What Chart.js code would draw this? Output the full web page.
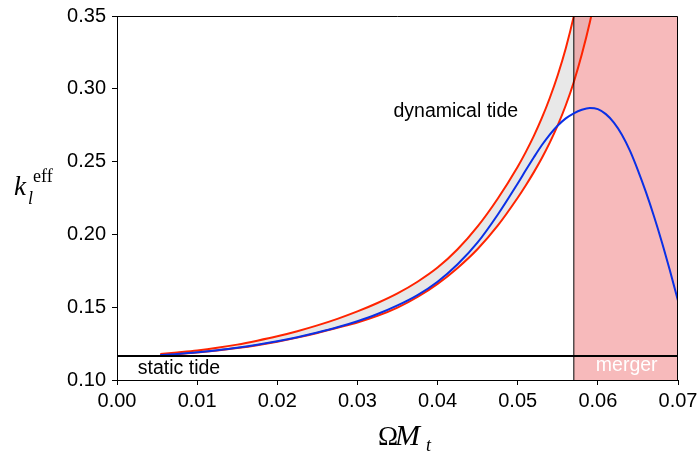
<!DOCTYPE html>
<html lang="en">

<head>
    <meta charset="UTF-8">
    <title>Effective Love number</title>
    <script src="https://cdn.jsdelivr.net/npm/chart.js"></script>
    <style>
        body { margin: 0; background: #fff; }
        #box { width: 697px; height: 452px; }
    </style>
</head>

<body>
    <div id="box">
        <canvas id="kChart" width="697" height="452"></canvas>
    </div>
</body>

</html>

<script>
    // omega * M_t grid for the two red bounds
    const xRed = [0.0054, 0.0075, 0.010, 0.0125, 0.015, 0.0175, 0.020, 0.0225, 0.025, 0.0275, 0.030, 0.0325,
        0.035, 0.0375, 0.040, 0.0425, 0.045, 0.0475, 0.050, 0.051, 0.052, 0.053, 0.054, 0.055, 0.056, 0.057,
        0.058, 0.059, 0.060]
    const kUpper = [0.1178, 0.1189, 0.1203, 0.1221, 0.1243, 0.1270, 0.1300, 0.1335, 0.1375, 0.1420, 0.1471, 0.1529,
        0.1595, 0.1675, 0.1772, 0.1898, 0.2055, 0.2245, 0.2465, 0.2565, 0.2675, 0.2798, 0.2937, 0.3095, 0.3279, 0.3499,
        0.3764, 0.4084, 0.4474]
    const kLower = [0.1170, 0.1177, 0.1188, 0.1202, 0.1219, 0.1239, 0.1263, 0.1291, 0.1323, 0.1359, 0.1395, 0.1440,
        0.1497, 0.1570, 0.1660, 0.1770, 0.1900, 0.2060, 0.2252, 0.2336, 0.2426, 0.2523, 0.2630, 0.2750, 0.2887, 0.3047,
        0.3237, 0.3457, 0.3717]

    // blue curve runs all the way to 0.07
    const xBlue = [0.0054, 0.0075, 0.010, 0.0125, 0.015, 0.0175, 0.020, 0.0225, 0.025, 0.0275, 0.030, 0.0325,
        0.035, 0.0375, 0.040, 0.0425, 0.045, 0.0475, 0.050, 0.051, 0.052, 0.053, 0.054, 0.055, 0.056, 0.057,
        0.058, 0.059, 0.060, 0.061, 0.062, 0.063, 0.064, 0.065, 0.066, 0.067, 0.068, 0.069, 0.070]
    const kDyn = [0.1172, 0.1179, 0.1190, 0.1205, 0.1222, 0.1242, 0.1266, 0.1294, 0.1326, 0.1362, 0.1404, 0.1453,
        0.1512, 0.1583, 0.1675, 0.1795, 0.1945, 0.2135, 0.2350, 0.2440, 0.2528, 0.2612, 0.2686, 0.2748, 0.2797, 0.2832,
        0.2856, 0.2868, 0.2860, 0.2826, 0.2768, 0.2685, 0.2575, 0.2440, 0.2290, 0.2125, 0.1945, 0.1750, 0.1545]

    const kStatic = 0.1165
    const mergerStart = 0.057
    const xTicks = [0.00, 0.01, 0.02, 0.03, 0.04, 0.05, 0.06, 0.07]
    const yTicks = [0.10, 0.15, 0.20, 0.25, 0.30, 0.35]

    const pts = (xs, ys) => xs.map((x, i) => ({ x: x, y: ys[i] }))

    const xMin = xTicks[0], xMax = xTicks[xTicks.length - 1]
    const yMin = yTicks[0], yMax = yTicks[yTicks.length - 1]

    const tickFont = { family: 'Liberation Sans, Arial, sans-serif', size: 20 }

    // frame, annotations and the math axis titles
    const extras = {
        id: 'extras',
        afterDatasetsDraw(chart) {
            const { ctx, chartArea: a, scales: { x, y } } = chart
            ctx.save()
            ctx.strokeStyle = '#000'
            ctx.lineWidth = 1
            ctx.beginPath()
            ctx.moveTo(a.left, a.top + 0.5)
            ctx.lineTo(a.right - 0.5, a.top + 0.5)
            ctx.lineTo(a.right - 0.5, a.bottom)
            ctx.stroke()

            ctx.font = '19.5px Liberation Sans, Arial, sans-serif'
            ctx.textBaseline = 'alphabetic'
            ctx.fillStyle = '#000'
            ctx.textAlign = 'left'
            ctx.fillText('dynamical tide', x.getPixelForValue(0.0345), y.getPixelForValue(0.2806))
            ctx.fillText('static tide', x.getPixelForValue(0.0026), y.getPixelForValue(0.1041))
            ctx.fillStyle = '#fff'
            ctx.textAlign = 'center'
            ctx.fillText('merger', x.getPixelForValue(0.0636), y.getPixelForValue(0.1062))

            // y title: k_l^eff
            ctx.fillStyle = '#000'
            ctx.textAlign = 'left'
            ctx.font = 'italic 27px Liberation Serif, Times New Roman, serif'
            ctx.fillText('k', 14, 195)
            ctx.font = 'italic 18px Liberation Serif, Times New Roman, serif'
            ctx.fillText('l', 28, 204)
            ctx.font = '18px Liberation Serif, Times New Roman, serif'
            ctx.fillText('eff', 33, 182)

            // x title: Omega M_t
            ctx.font = '27px Liberation Serif, Times New Roman, serif'
            ctx.fillText('Ω', 378, 445)
            ctx.font = 'italic 30px Liberation Serif, Times New Roman, serif'
            ctx.fillText('M', 395, 445)
            ctx.font = 'italic 18px Liberation Serif, Times New Roman, serif'
            ctx.fillText('t', 426, 451)
            ctx.restore()
        }
    }

    const ctx = document.getElementById('kChart').getContext('2d')
    const kChart = new Chart(ctx, {
        type: 'line',
        data: {
            datasets: [
                {
                    label: 'static tide',
                    data: [{ x: xMin, y: kStatic }, { x: xMax, y: kStatic }],
                    borderColor: '#000',
                    borderWidth: 2,
                    pointRadius: 0,
                    fill: false,
                    order: 0
                },
                {
                    label: 'dynamical tide',
                    data: pts(xBlue, kDyn),
                    borderColor: '#0a30e6',
                    borderWidth: 2,
                    pointRadius: 0,
                    cubicInterpolationMode: 'monotone',
                    fill: false,
                    order: 1
                },
                {
                    label: 'upper bound',
                    data: pts(xRed, kUpper),
                    borderColor: '#ff2400',
                    backgroundColor: '#e8e8e8',
                    borderWidth: 2,
                    pointRadius: 0,
                    cubicInterpolationMode: 'monotone',
                    fill: '+1',
                    order: 6
                },
                {
                    label: 'lower bound',
                    data: pts(xRed, kLower),
                    borderColor: '#ff2400',
                    borderWidth: 2,
                    pointRadius: 0,
                    cubicInterpolationMode: 'monotone',
                    fill: false,
                    order: 5
                },
                {
                    label: 'merger',
                    data: [{ x: mergerStart, y: yMax }, { x: xMax, y: yMax }],
                    borderWidth: 0,
                    backgroundColor: 'rgba(240, 118, 120, 0.5)',
                    pointRadius: 0,
                    fill: 'start',
                    order: 4
                },
                {
                    label: 'merger edge',
                    data: [{ x: mergerStart, y: yMin }, { x: mergerStart, y: yMax }],
                    borderColor: '#000',
                    borderWidth: 1,
                    pointRadius: 0,
                    fill: false,
                    order: 3
                }
            ]
        },
        options: {
            responsive: false,
            animation: false,
            layout: {
                padding: { left: 0, top: 16, right: 19, bottom: 0 }
            },
            plugins: {
                legend: { display: false },
                tooltip: { enabled: false },
                filler: { drawTime: 'beforeDatasetsDraw' }
            },
            scales: {
                x: {
                    type: 'linear',
                    min: xMin,
                    max: xMax,
                    afterFit: (s) => { s.height = 72; s.paddingLeft = 0; s.paddingRight = 0 },
                    afterBuildTicks: (s) => { s.ticks = xTicks.map(v => ({ value: v })) },
                    ticks: {
                        color: '#000',
                        font: tickFont,
                        padding: 4,
                        maxRotation: 0,
                        autoSkip: false,
                        callback: (v) => v.toFixed(2)
                    },
                    grid: { drawOnChartArea: false, tickLength: 5, color: '#000' },
                    border: { color: '#000', width: 1 }
                },
                y: {
                    type: 'linear',
                    min: yMin,
                    max: yMax,
                    afterFit: (s) => { s.width = 117; s.paddingTop = 0; s.paddingBottom = 0 },
                    afterBuildTicks: (s) => { s.ticks = yTicks.map(v => ({ value: v })) },
                    ticks: {
                        color: '#000',
                        font: tickFont,
                        padding: 6,
                        autoSkip: false,
                        callback: (v) => v.toFixed(2)
                    },
                    grid: { drawOnChartArea: false, tickLength: 5, color: '#000' },
                    border: { color: '#000', width: 1 }
                }
            }
        },
        plugins: [extras]
    });
</script>
